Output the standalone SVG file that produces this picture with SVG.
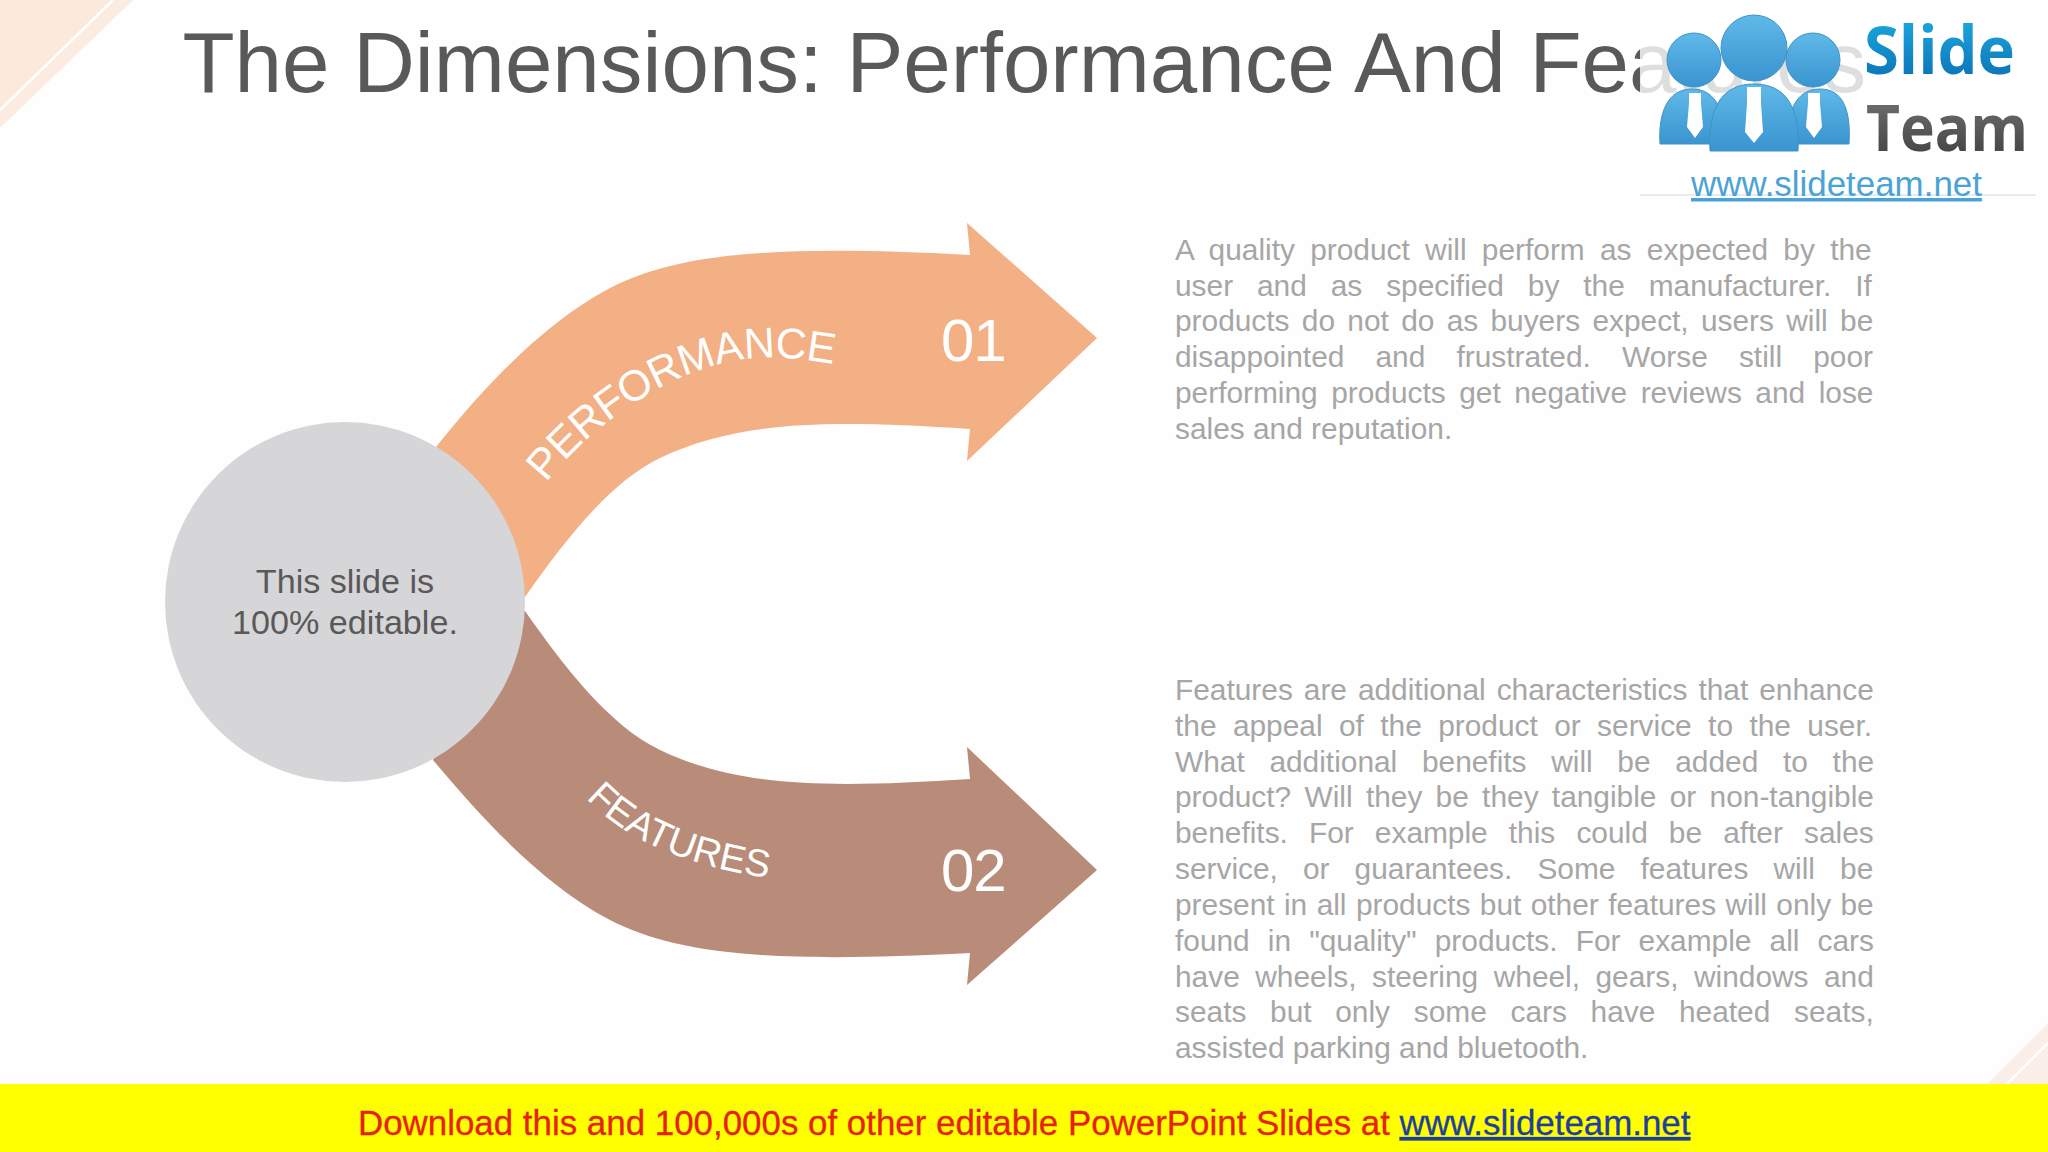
<svg xmlns="http://www.w3.org/2000/svg" width="2048" height="1152" viewBox="0 0 2048 1152">
<style>
text{font-family:"Liberation Sans",Arial,sans-serif}
.body{font-size:29.87px;fill:#a6a6a6}
.ctr{font-size:34.13px;fill:#595959;text-anchor:middle}
.num{font-size:60px;fill:#fff;letter-spacing:-1px}
.lab{fill:#fff}
.lt{font-family:"Open Sans",sans-serif;font-weight:700}
</style>
<defs>
<linearGradient id="gs" x1="0" y1="0" x2="0" y2="1"><stop offset="0" stop-color="#20b4ea"/><stop offset="1" stop-color="#0868ad"/></linearGradient>
<linearGradient id="gt" x1="0" y1="0" x2="0" y2="1"><stop offset="0" stop-color="#7a7a7a"/><stop offset="1" stop-color="#3a3a3a"/></linearGradient>
<linearGradient id="gb" x1="0" y1="0" x2="0" y2="1"><stop offset="0" stop-color="#5fb9e8"/><stop offset="1" stop-color="#3a94cf"/></linearGradient>
<path id="p1" d="M546,483 C596,420 680,362 760,358 C785,357 805,359 845,366"/>
<path id="p2" d="M586,798 C630,845 700,870 785,880"/>
</defs>
<rect width="2048" height="1152" fill="#fefefe"/>
<g id="decor">
<polygon points="0,0 133,0 0,128" fill="#fbebe1"/>
<polygon points="0,0 110,0 0,108" fill="#fde9dc"/>
<line x1="113" y1="0" x2="0" y2="110" stroke="#fff" stroke-width="2.5"/>
<polygon points="2048,1023 2048,1084 1987,1084" fill="#fbeee8"/>
<line x1="2048" y1="1043" x2="2007" y2="1084" stroke="#fff" stroke-width="2.5"/>
</g>
<g id="title"><text x="182.5" y="92" font-size="85.33" fill="#595959">The Dimensions: Performance And Features</text></g>
<g id="connectors">
<path id="arrow-performance" fill="#f2b084" d="M436,447 C480,392 540,325 610,288 C680,252 780,245 970,255 L967,223 L1097,338 L967,461 L970,429 C830,420 740,420 660,458 C610,482 565,540 525,597 L500,600 Z"/>
<path id="arrow-features" fill="#b98c79" d="M433,760 C480,816 540,883 610,920 C680,956 780,963 970,953 L967,985 L1097,870 L967,747 L970,779 C830,788 740,788 660,750 C610,726 565,668 525,611 L500,608 Z"/>
</g>
<g id="label-performance">
<text class="lab" style="font-size:43px;letter-spacing:-0.6px"><textPath href="#p1">PERFORMANCE</textPath></text>
<text class="num" x="941" y="361">01</text>
</g>
<g id="label-features">
<text class="lab" style="font-size:38.5px"><textPath href="#p2">FEATURES</textPath></text>
<text class="num" x="941" y="891">02</text>
</g>
<g id="node-center">
<circle cx="345" cy="602" r="180" fill="#d6d5d8"/>
<text class="ctr" x="345" y="593">This slide is</text>
<text class="ctr" x="345" y="634">100% editable.</text>
</g>
<g id="text-performance">
<text class="body" x="1175" y="259.7" word-spacing="7">A quality product will perform as expected by the</text>
<text class="body" x="1175" y="295.5" word-spacing="15.6">user and as specified by the manufacturer. If</text>
<text class="body" x="1175" y="331.4" word-spacing="4">products do not do as buyers expect, users will be</text>
<text class="body" x="1175" y="367.2" word-spacing="22.85">disappointed and frustrated. Worse still poor</text>
<text class="body" x="1175" y="403.1" word-spacing="5.2">performing products get negative reviews and lose</text>
<text class="body" x="1175" y="438.9">sales and reputation.</text>
</g>
<g id="text-features">
<text class="body" x="1175" y="699.8" word-spacing="2.65">Features are additional characteristics that enhance</text>
<text class="body" x="1175" y="735.6" word-spacing="8.1">the appeal of the product or service to the user.</text>
<text class="body" x="1175" y="771.5" word-spacing="16.4">What additional benefits will be added to the</text>
<text class="body" x="1175" y="807.3" word-spacing="5">product? Will they be they tangible or non-tangible</text>
<text class="body" x="1175" y="843.2" word-spacing="12.8">benefits. For example this could be after sales</text>
<text class="body" x="1175" y="879" word-spacing="16.8">service, or guarantees. Some features will be</text>
<text class="body" x="1175" y="914.8" word-spacing="1.1">present in all products but other features will only be</text>
<text class="body" x="1175" y="950.7" word-spacing="9.8">found in "quality" products. For example all cars</text>
<text class="body" x="1175" y="986.5" word-spacing="7.2">have wheels, steering wheel, gears, windows and</text>
<text class="body" x="1175" y="1022.4" word-spacing="15.4">seats but only some cars have heated seats,</text>
<text class="body" x="1175" y="1058.2">assisted parking and bluetooth.</text>
</g>
<g id="logo">
<rect x="1640" y="0" width="396" height="195" fill="#fff" fill-opacity="0.8"/>
<line x1="1640" y1="195" x2="2036" y2="195" stroke="#cfd8de" stroke-width="1"/>
<path fill="url(#gb)" stroke="#3f93c9" d="M1660,144 C1658,112 1668,89 1692,89 C1716,89 1726,112 1724,144 Z"/>
<path fill="url(#gb)" stroke="#3f93c9" d="M1788,144 C1786,112 1796,89 1820,89 C1844,89 1851,112 1849,144 Z"/>
<circle cx="1694" cy="60" r="27" fill="url(#gb)" stroke="#3f93c9"/>
<circle cx="1813" cy="60" r="27" fill="url(#gb)" stroke="#3f93c9"/>
<path fill="url(#gb)" stroke="#3f93c9" d="M1710,151 C1708,110 1720,84 1754,84 C1788,84 1800,110 1798,151 Z"/>
<circle cx="1754" cy="48" r="33" fill="url(#gb)" stroke="#3f93c9"/>
<path fill="#fff" d="M1689,93 H1701 V103 L1703,127 L1695,138 L1687,127 L1689,103 Z"/>
<path fill="#fff" d="M1747,87 H1761 V103 L1763,132 L1754,143 L1745,132 L1747,103 Z"/>
<path fill="#fff" d="M1808,93 H1820 V103 L1822,127 L1814,138 L1806,127 L1808,103 Z"/>
<text class="lt" x="1864" y="74" font-size="67" fill="url(#gs)" textLength="151" lengthAdjust="spacingAndGlyphs">Slide</text>
<text class="lt" x="1866" y="151" font-size="64" fill="url(#gt)" textLength="162" lengthAdjust="spacingAndGlyphs">Team</text>
<text x="1691" y="196" font-size="34.9" fill="#4ba3d5" text-decoration="underline">www.slideteam.net</text>
</g>
<g id="footer">
<rect x="0" y="1084" width="2048" height="68" fill="#ff0"/>
<text x="358" y="1135" font-size="34.9" fill="#e8200f" stroke="#e8200f" stroke-width="0.3">Download this and 100,000s of other editable PowerPoint Slides at <tspan fill="#1f3f9f" stroke="#1f3f9f" text-decoration="underline">www.slideteam.net</tspan></text>
</g>
</svg>
